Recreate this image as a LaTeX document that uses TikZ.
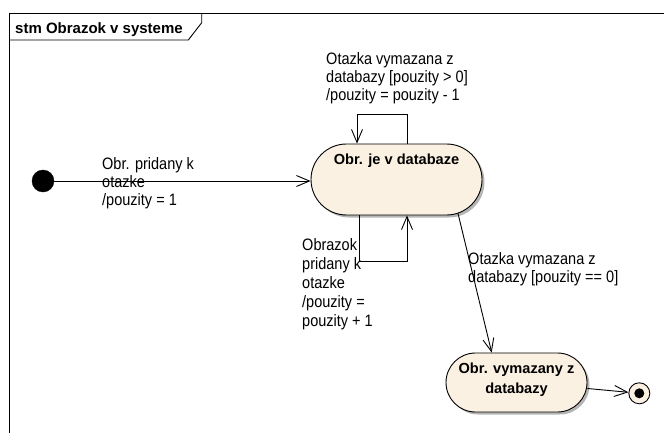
\documentclass[tikz,border=0pt]{standalone}
\usepackage{fontspec}
\setmainfont{Liberation Sans}
\newfontfamily\lblfont{Liberation Sans}[FakeStretch=0.88]
\usetikzlibrary{arrows.meta,shadows}
\definecolor{statefill}{RGB}{251,241,226}
\definecolor{shadowgray}{RGB}{150,150,150}
\tikzset{
  tr/.style={draw=black, line width=0.9pt, -{Straight Barb[length=13pt,width=11pt,line width=0.9pt]}},
  statebox/.style={draw=black, line width=0.9pt, fill=statefill, rounded corners=#1, inner sep=0pt,
    drop shadow={shadow xshift=2.5pt,shadow yshift=-2.5pt,fill=shadowgray,opacity=0.7}},
  lbl/.style={anchor=north west, inner sep=0pt, align=left, font=\lblfont\fontsize{16.5}{18}\selectfont},
  lblwide/.style={lbl, font=\lblfont\fontsize{16.5}{19}\selectfont},
  sname/.style={font=\bfseries\fontsize{14.6}{20}\selectfont, align=center, inner sep=0pt},
  frameline/.style={draw=black, line width=0.9pt},
}
\begin{document}
\begin{tikzpicture}[x=1pt,y=-1pt]
\useasboundingbox (0,0) rectangle (664,433);
% frame
\draw[frameline] (9,433) -- (9,13.5) -- (664,13.5);
\draw[frameline] (9,40) -- (188.3,40) -- (201.7,22.7) -- (201.7,13.5);
\node[anchor=base west, inner sep=0pt, font=\bfseries\fontsize{15}{18}\selectfont] (title) at (15,33.3) {stm Obrazok v systeme};
% states
\node[statebox=35.5pt, minimum width=171pt, minimum height=71pt,
      label={[sname, yshift=19.2pt]center:Obr. je v databaze}] (s1) at (396.5,179.5) {};
\node[statebox=29.5pt, minimum width=141pt, minimum height=59pt,
      label={[sname, yshift=2.9pt]center:Obr. vymazany z\\databazy}] (s2) at (516.5,382.5) {};
% pseudo states
\node[circle, draw=black, fill=black, minimum size=22pt, inner sep=0pt] (init) at (43,181) {};
\node[circle, draw=black, fill=statefill, line width=0.9pt, minimum size=21pt, inner sep=0pt] (fin) at (639.3,393.3) {};
\node[circle, fill=black, minimum size=10pt, inner sep=0pt] (findot) at (fin.center) {};
% transitions
\draw[tr] (init.east) -- (init.east -| s1.west);
\draw[tr] ([xshift=10.5pt]s1.north) -- ++(0,-29) -- ++(-50,0) -- ([xshift=-39.5pt]s1.north);
\draw[tr] ([xshift=-37.5pt]s1.south) -- ++(0,46) -- ++(48,0) -- ([xshift=10.5pt]s1.south);
\draw[tr] ([xshift=61.5pt,yshift=2pt]s1.south) -- ([xshift=-24.8pt]s2.north);
\draw[tr] ([yshift=-6pt]s2.east) -- (fin);
% labels
\node[lbl] (l1) at (102,156.4) {\strut Obr. pridany k\\otazke\\/pouzity = 1};
\node[lbl] (l2) at (326,51.9) {\strut Otazka vymazana z\\databazy [pouzity > 0]\\/pouzity = pouzity - 1};
\node[lblwide] (l3) at (302,236.7) {\strut Obrazok\\pridany k\\otazke\\/pouzity =\\pouzity + 1};
\node[lbl] (l4) at (468,251.4) {\strut Otazka vymazana z\\databazy [pouzity == 0]};
\end{tikzpicture}
\end{document}
